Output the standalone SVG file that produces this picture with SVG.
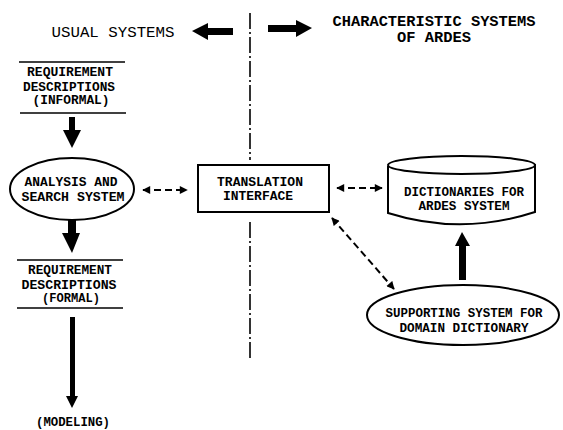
<svg xmlns="http://www.w3.org/2000/svg" width="563" height="430" viewBox="0 0 563 430">
<style>
.t{font-family:"Liberation Mono","Courier New",monospace;font-weight:bold;font-size:12px;fill:#000;text-anchor:middle}
.h{font-family:"Liberation Mono","Courier New",monospace;font-size:15px;fill:#000;text-anchor:middle}
.ln{stroke:#000;stroke-width:1.6;fill:none}
.sh{stroke:#000;stroke-width:2;fill:#fff}
.blk{fill:#000;stroke:none}
.dash{stroke:#000;stroke-width:2;fill:none;stroke-dasharray:7 4}
</style>
<defs>
<marker id="ah" viewBox="0 0 10 10" refX="9" refY="5" markerWidth="9" markerHeight="8" markerUnits="userSpaceOnUse" orient="auto-start-reverse">
<path d="M0,0 L10,5 L0,10 Z" fill="#000"/>
</marker>
</defs>
<rect width="563" height="430" fill="#fff"/>

<g id="headings">
<text class="h" x="113" y="37" textLength="123" lengthAdjust="spacingAndGlyphs">USUAL SYSTEMS</text>
<text class="h" x="434" y="26" textLength="203" lengthAdjust="spacingAndGlyphs" font-weight="bold">CHARACTERISTIC SYSTEMS</text>
<text class="h" x="434" y="42" textLength="74" lengthAdjust="spacingAndGlyphs" font-weight="bold">OF ARDES</text>
</g>

<g id="divider">
<line x1="250" y1="13" x2="250" y2="160" stroke="#000" stroke-width="1.6" stroke-dasharray="16 3 2 3"/>
<line x1="250" y1="222" x2="250" y2="360" stroke="#000" stroke-width="1.6" stroke-dasharray="16 3 2 3"/>
</g>

<g id="req-informal">
<line class="ln" x1="19" y1="62" x2="125" y2="62"/>
<text class="t" x="70" y="76" textLength="86" lengthAdjust="spacingAndGlyphs">REQUIREMENT</text>
<text class="t" x="69" y="91" textLength="92" lengthAdjust="spacingAndGlyphs">DESCRIPTIONS</text>
<text class="t" x="71" y="104" textLength="77" lengthAdjust="spacingAndGlyphs">(INFORMAL)</text>
<line class="ln" x1="20" y1="113" x2="126" y2="113"/>
</g>

<g id="analysis">
<ellipse class="sh" cx="72" cy="189" rx="62" ry="31"/>
<text class="t" x="71" y="186" textLength="93" lengthAdjust="spacingAndGlyphs">ANALYSIS AND</text>
<text class="t" x="73" y="201" textLength="103" lengthAdjust="spacingAndGlyphs">SEARCH SYSTEM</text>
</g>

<g id="req-formal">
<line class="ln" x1="17" y1="260" x2="123" y2="260"/>
<text class="t" x="70" y="274" textLength="84" lengthAdjust="spacingAndGlyphs">REQUIREMENT</text>
<text class="t" x="69" y="289" textLength="95" lengthAdjust="spacingAndGlyphs">DESCRIPTIONS</text>
<text class="t" x="71" y="302" textLength="58" lengthAdjust="spacingAndGlyphs">(FORMAL)</text>
<line class="ln" x1="17" y1="308" x2="123" y2="308"/>
</g>

<g id="modeling">
<text class="t" x="73" y="426" textLength="74" lengthAdjust="spacingAndGlyphs">(MODELING)</text>
</g>

<g id="translation">
<rect class="sh" x="198" y="165" width="131" height="47"/>
<text class="t" x="260" y="186" textLength="86" lengthAdjust="spacingAndGlyphs">TRANSLATION</text>
<text class="t" x="258" y="200" textLength="70" lengthAdjust="spacingAndGlyphs">INTERFACE</text>
</g>

<g id="dictionaries">
<path class="sh" d="M388,166 L388,213 Q461,236 535,212 L535,164"/>
<ellipse class="sh" cx="461.5" cy="165" rx="73.5" ry="9"/>
<text class="t" x="464" y="196" textLength="120" lengthAdjust="spacingAndGlyphs">DICTIONARIES FOR</text>
<text class="t" x="464" y="210" textLength="91" lengthAdjust="spacingAndGlyphs">ARDES SYSTEM</text>
</g>

<g id="supporting">
<ellipse class="sh" cx="463" cy="315" rx="96" ry="30"/>
<text class="t" x="464" y="317" textLength="157" lengthAdjust="spacingAndGlyphs">SUPPORTING SYSTEM FOR</text>
<text class="t" x="464" y="332" textLength="129" lengthAdjust="spacingAndGlyphs">DOMAIN DICTIONARY</text>
</g>

<g id="connectors">
<path class="blk" d="M192,31 L208,23 L208,28 L233,28 L233,35 L208,35 L208,40 Z"/>
<path class="blk" d="M312,28 L296,20 L296,25 L268,25 L268,32 L296,32 L296,37 Z"/>
<path class="blk" d="M69,117 L75,117 L75,130 L81,130 L72,148 L63,130 L69,130 Z"/>
<path class="blk" d="M68,220 L76,220 L76,233 L80,233 L72,253 L62,233 L68,233 Z"/>
<path class="blk" d="M70,317 L75,317 L75,396 L78,396 L72,408 L66,396 L70,396 Z"/>
<path class="blk" d="M459,280 L466,280 L466,246 L470,246 L462,232 L455,246 L459,246 Z"/>
<line class="dash" x1="143" y1="190" x2="187" y2="190" marker-start="url(#ah)" marker-end="url(#ah)" stroke-dasharray="18 8"/>
<line class="dash" x1="337" y1="188" x2="382" y2="188" marker-start="url(#ah)" marker-end="url(#ah)" stroke-dasharray="18 9"/>
<line class="dash" x1="332" y1="218" x2="394" y2="289" marker-start="url(#ah)" marker-end="url(#ah)" stroke-width="2.4"/>
</g>
</svg>
